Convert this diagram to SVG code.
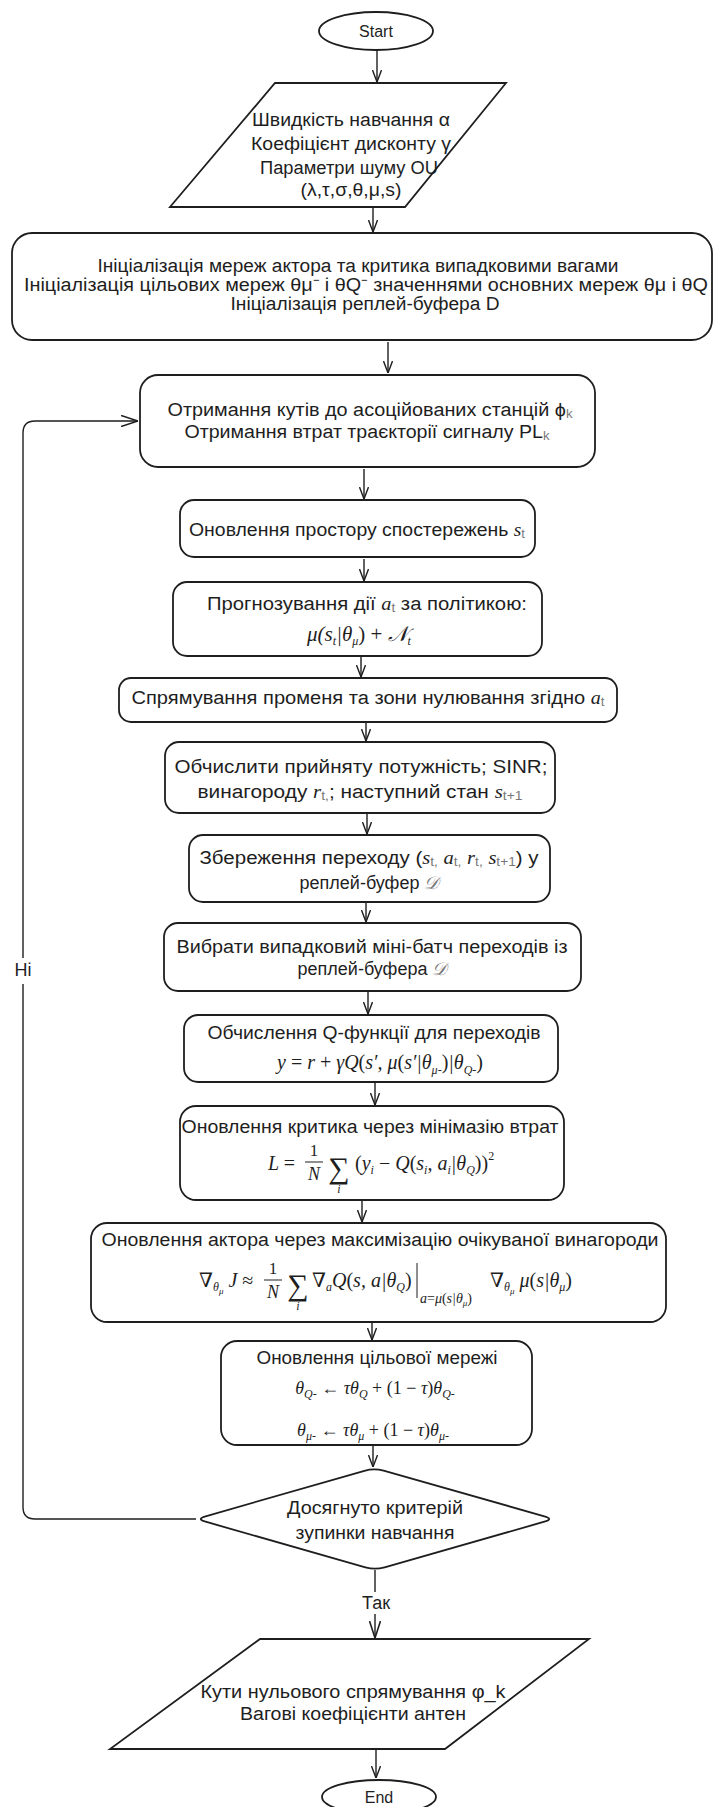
<svg xmlns="http://www.w3.org/2000/svg" width="713" height="1807" viewBox="0 0 713 1807">
<style>
.n{fill:#fff;stroke:#1e1e1e;stroke-width:1.8}
.c{fill:none;stroke:#1e1e1e;stroke-width:1.4}
.t{font-family:"Liberation Sans",Arial,sans-serif;font-size:18px;fill:#1e1e1e;text-anchor:middle}
.m{font-family:"Liberation Serif","DejaVu Serif",serif;font-style:italic;font-size:19px;fill:#1e1e1e;text-anchor:middle}
.ms{font-size:12px}
.mi{font-family:"Liberation Serif","DejaVu Serif",serif;font-style:italic}
.g{font-size:12px;fill:#777}
.up{font-style:normal}
.lb{fill:#fff;stroke:none}
</style>
<defs>
<marker id="ah" viewBox="0 0 12 10" refX="12" refY="5" markerWidth="12" markerHeight="10" markerUnits="userSpaceOnUse" orient="auto"><path d="M0,0.5 L12,5 L0,9.5" fill="none" stroke="#1e1e1e" stroke-width="1.4"/></marker>
<marker id="ahb" viewBox="0 0 17 12" refX="17" refY="6" markerWidth="17" markerHeight="12" markerUnits="userSpaceOnUse" orient="auto"><path d="M0,0.5 L17,6 L0,11.5" fill="none" stroke="#1e1e1e" stroke-width="1.6"/></marker>
</defs>

<g id="connectors">
<path class="c" d="M377,50 V82" marker-end="url(#ah)"/>
<path class="c" d="M373,208 V232" marker-end="url(#ah)"/>
<path class="c" d="M388,342 V373" marker-end="url(#ah)"/>
<path class="c" d="M364,469 V499" marker-end="url(#ah)"/>
<path class="c" d="M364,559 V581" marker-end="url(#ah)"/>
<path class="c" d="M361,657 V677" marker-end="url(#ah)"/>
<path class="c" d="M366,723 V741" marker-end="url(#ah)"/>
<path class="c" d="M367,814 V834" marker-end="url(#ah)"/>
<path class="c" d="M366,903 V922" marker-end="url(#ah)"/>
<path class="c" d="M368,992 V1014" marker-end="url(#ah)"/>
<path class="c" d="M375,1083 V1105" marker-end="url(#ah)"/>
<path class="c" d="M362,1201 V1222" marker-end="url(#ah)"/>
<path class="c" d="M372,1323 V1340" marker-end="url(#ah)"/>
<path class="c" d="M373,1446 V1467" marker-end="url(#ah)"/>
<path class="c" d="M196,1519 H35 Q23,1519 23,1507 V433 Q23,421 35,421 H138" marker-end="url(#ahb)"/>
<path class="c" d="M375,1570 V1638" marker-end="url(#ahb)"/>
<path class="c" d="M376,1750 V1778" marker-end="url(#ah)"/>
<rect class="lb" x="11" y="958" width="26" height="26"/>
<text class="t" x="23" y="976">Ні</text>
<rect class="lb" x="358" y="1592" width="36" height="22"/>
<text class="t" x="376" y="1609">Так</text>
</g>

<g id="start">
<ellipse class="n" cx="376" cy="31" rx="57" ry="19"/>
<text class="t" x="376" y="37" style="font-size:16px">Start</text>
</g>

<g id="params">
<polygon class="n" points="275,83 506,83 405,207 170,207"/>
<text class="t" x="351" y="126" textLength="198" lengthAdjust="spacingAndGlyphs">Швидкість навчання α</text>
<text class="t" x="351" y="150" textLength="200" lengthAdjust="spacingAndGlyphs">Коефіцієнт дисконту γ</text>
<text class="t" x="349" y="174" textLength="178" lengthAdjust="spacingAndGlyphs">Параметри шуму OU</text>
<text class="t" x="351" y="196" textLength="101" lengthAdjust="spacingAndGlyphs">(λ,τ,σ,θ,μ,s)</text>
</g>

<g id="init">
<rect class="n" x="12" y="233" width="700" height="107" rx="20"/>
<text class="t" x="358" y="272" textLength="521" lengthAdjust="spacingAndGlyphs">Ініціалізація мереж актора та критика випадковими вагами</text>
<text class="t" x="366" y="291" textLength="684" lengthAdjust="spacingAndGlyphs">Ініціалізація цільових мереж θμ⁻ і θQ⁻ значеннями основних мереж θμ і θQ</text>
<text class="t" x="365" y="310" textLength="269" lengthAdjust="spacingAndGlyphs">Ініціалізація реплей-буфера D</text>
</g>

<g id="angles">
<rect class="n" x="140" y="375" width="455" height="92" rx="18"/>
<text class="t" x="370" y="416" textLength="405" lengthAdjust="spacingAndGlyphs">Отримання кутів до асоційованих станцій ϕ<tspan class="g" dy="2">k</tspan></text>
<text class="t" x="367" y="438" textLength="365" lengthAdjust="spacingAndGlyphs">Отримання втрат траєкторії сигналу PL<tspan class="g" dy="2">k</tspan></text>
</g>

<g id="observe">
<rect class="n" x="180" y="500" width="355" height="57" rx="14"/>
<text class="t" x="357" y="536" textLength="336" lengthAdjust="spacingAndGlyphs">Оновлення простору спостережень <tspan class="mi">s</tspan><tspan class="g" dy="2">t</tspan></text>
</g>

<g id="predict">
<rect class="n" x="173" y="582" width="369" height="74" rx="14"/>
<text class="t" x="367" y="610" textLength="320" lengthAdjust="spacingAndGlyphs">Прогнозування дії <tspan class="mi">a</tspan><tspan class="g" dy="2">t</tspan><tspan dy="-2"> за політикою:</tspan></text>
<text class="m" x="359" y="641" style="font-size:21px">μ(s<tspan class="ms" dy="4">t</tspan><tspan dy="-4">|θ</tspan><tspan class="ms" dy="4">μ</tspan><tspan dy="-4" class="up">) + </tspan><tspan>𝒩</tspan><tspan class="ms" dy="4">t</tspan></text>
</g>

<g id="steer">
<rect class="n" x="119" y="678" width="498" height="44" rx="12"/>
<text class="t" x="368" y="704" textLength="473" lengthAdjust="spacingAndGlyphs">Спрямування променя та зони нулювання згідно <tspan class="mi">a</tspan><tspan class="g" dy="2">t</tspan></text>
</g>

<g id="compute">
<rect class="n" x="165" y="742" width="390" height="71" rx="14"/>
<text class="t" x="361" y="773" textLength="373" lengthAdjust="spacingAndGlyphs">Обчислити прийняту потужність; SINR;</text>
<text class="t" x="360" y="798" textLength="325" lengthAdjust="spacingAndGlyphs">винагороду <tspan class="mi">r</tspan><tspan class="g" dy="2">t,</tspan><tspan dy="-2">; наступний стан </tspan><tspan class="mi">s</tspan><tspan class="g" dy="2">t+1</tspan></text>
</g>

<g id="store">
<rect class="n" x="189" y="835" width="361" height="67" rx="14"/>
<text class="t" x="369" y="864" textLength="339" lengthAdjust="spacingAndGlyphs">Збереження переходу (<tspan class="mi">s</tspan><tspan class="g" dy="2">t,</tspan><tspan dy="-2"> </tspan><tspan class="mi">a</tspan><tspan class="g" dy="2">t,</tspan><tspan dy="-2"> </tspan><tspan class="mi">r</tspan><tspan class="g" dy="2">t,</tspan><tspan dy="-2"> </tspan><tspan class="mi">s</tspan><tspan class="g" dy="2">t+1</tspan><tspan dy="-2">) у</tspan></text>
<text class="t" x="369" y="889">реплей-буфер <tspan class="mi" fill="#777">𝒟</tspan></text>
</g>

<g id="sample">
<rect class="n" x="164" y="923" width="417" height="68" rx="14"/>
<text class="t" x="372" y="953" textLength="391" lengthAdjust="spacingAndGlyphs">Вибрати випадковий міні-батч переходів із</text>
<text class="t" x="372" y="975">реплей-буфера <tspan class="mi" fill="#777">𝒟</tspan></text>
</g>

<g id="qfunc">
<rect class="n" x="184" y="1015" width="374" height="67" rx="14"/>
<text class="t" x="374" y="1039" textLength="333" lengthAdjust="spacingAndGlyphs">Обчислення Q-функції для переходів</text>
<text class="m" x="380" y="1069" style="font-size:20px">y <tspan class="up">=</tspan> r <tspan class="up">+</tspan> γQ<tspan class="up">(</tspan>s′, μ<tspan class="up">(</tspan>s′|θ<tspan class="ms" dy="5">μ-</tspan><tspan dy="-5" class="up">)</tspan>|θ<tspan class="ms" dy="5">Q-</tspan><tspan dy="-5" class="up">)</tspan></text>
</g>

<g id="critic">
<rect class="n" x="180" y="1106" width="384" height="94" rx="16"/>
<text class="t" x="370" y="1133" textLength="377" lengthAdjust="spacingAndGlyphs">Оновлення критика через мінімазію втрат</text>
<text class="m" x="268" y="1170" style="text-anchor:start;font-size:20px">L <tspan class="up">=</tspan></text>
<text class="m up" x="314" y="1156" style="font-style:normal;font-size:17px">1</text>
<line x1="305" y1="1162" x2="323" y2="1162" stroke="#1e1e1e" stroke-width="1"/>
<text class="m" x="314" y="1180" style="font-size:18px">N</text>
<text class="m" x="339" y="1178" style="font-style:normal;font-size:30px">∑</text>
<text class="m" x="339" y="1193" style="font-size:12px">i</text>
<text class="m" x="355" y="1170" style="text-anchor:start;font-size:20px"><tspan class="up">(</tspan>y<tspan class="ms" dy="4">i</tspan><tspan dy="-4" class="up"> − </tspan>Q<tspan class="up">(</tspan>s<tspan class="ms" dy="4">i</tspan><tspan dy="-4">, a</tspan><tspan class="ms" dy="4">i</tspan><tspan dy="-4">|θ</tspan><tspan class="ms" dy="4">Q</tspan><tspan dy="-4" class="up">))</tspan><tspan class="ms up" dy="-10">2</tspan></text>
</g>

<g id="actor">
<rect class="n" x="91" y="1223" width="575" height="99" rx="16"/>
<text class="t" x="380" y="1246" textLength="557" lengthAdjust="spacingAndGlyphs">Оновлення актора через максимізацію очікуваної винагороди</text>
<text class="m" x="199" y="1287" style="text-anchor:start;font-size:20px"><tspan class="up">∇</tspan><tspan class="ms" dy="4">θ</tspan><tspan style="font-size:9px" dy="3">μ</tspan><tspan dy="-7"> J </tspan><tspan class="up">≈</tspan></text>
<text class="m up" x="273" y="1274" style="font-style:normal;font-size:17px">1</text>
<line x1="264" y1="1280" x2="282" y2="1280" stroke="#1e1e1e" stroke-width="1"/>
<text class="m" x="273" y="1298" style="font-size:18px">N</text>
<text class="m" x="298" y="1295" style="font-style:normal;font-size:30px">∑</text>
<text class="m" x="298" y="1310" style="font-size:12px">i</text>
<text class="m" x="312" y="1287" style="text-anchor:start;font-size:20px"><tspan class="up">∇</tspan><tspan class="ms" dy="4">a</tspan><tspan dy="-4">Q</tspan><tspan class="up">(</tspan>s, a|θ<tspan class="ms" dy="4">Q</tspan><tspan dy="-4" class="up">)</tspan></text>
<line x1="417" y1="1263" x2="417" y2="1298" stroke="#1e1e1e" stroke-width="1"/>
<text class="m" x="420" y="1303" style="text-anchor:start;font-size:14px">a<tspan class="up">=</tspan>μ<tspan class="up">(</tspan>s|θ<tspan style="font-size:9px" dy="3">μ</tspan><tspan dy="-3" class="up">)</tspan></text>
<text class="m" x="490" y="1287" style="text-anchor:start;font-size:20px"><tspan class="up">∇</tspan><tspan class="ms" dy="4">θ</tspan><tspan style="font-size:9px" dy="3">μ</tspan><tspan dy="-7"> μ</tspan><tspan class="up">(</tspan>s|θ<tspan class="ms" dy="4">μ</tspan><tspan dy="-4" class="up">)</tspan></text>
</g>

<g id="target">
<rect class="n" x="221" y="1341" width="311" height="104" rx="16"/>
<text class="t" x="377" y="1364" textLength="241" lengthAdjust="spacingAndGlyphs">Оновлення цільової мережі</text>
<text class="m" x="375" y="1394" style="font-size:18px">θ<tspan class="ms" dy="4">Q-</tspan><tspan dy="-4" class="up"> ← </tspan>τθ<tspan class="ms" dy="4">Q</tspan><tspan dy="-4" class="up"> + (1 − </tspan>τ<tspan class="up">)</tspan>θ<tspan class="ms" dy="4">Q-</tspan></text>
<text class="m" x="373" y="1436" style="font-size:18px">θ<tspan class="ms" dy="4">μ-</tspan><tspan dy="-4" class="up"> ← </tspan>τθ<tspan class="ms" dy="4">μ</tspan><tspan dy="-4" class="up"> + (1 − </tspan>τ<tspan class="up">)</tspan>θ<tspan class="ms" dy="4">μ-</tspan></text>
</g>

<g id="decision">
<path class="n" d="M364.4,1470.8 Q374,1468 383.6,1470.7 L544.4,1516.3 Q554,1519 544.4,1521.7 L384.6,1567.3 Q375,1570 365.4,1567.3 L205.6,1521.7 Q196,1519 205.6,1516.3 Z"/>
<text class="t" x="375" y="1514" textLength="176" lengthAdjust="spacingAndGlyphs">Досягнуто критерій</text>
<text class="t" x="375" y="1539" textLength="159" lengthAdjust="spacingAndGlyphs">зупинки навчання</text>
</g>

<g id="output">
<polygon class="n" points="260,1639 589,1639 445,1749 110,1749"/>
<text class="t" x="353" y="1698" textLength="305" lengthAdjust="spacingAndGlyphs">Кути нульового спрямування φ_k</text>
<text class="t" x="353" y="1720" textLength="226" lengthAdjust="spacingAndGlyphs">Вагові коефіцієнти антен</text>
</g>

<g id="end">
<ellipse class="n" cx="379" cy="1797" rx="57" ry="17"/>
<text class="t" x="379" y="1803" style="font-size:16px">End</text>
</g>
</svg>
